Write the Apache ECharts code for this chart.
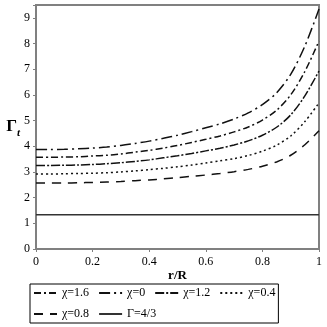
<!DOCTYPE html>
<html>
<head>
<meta charset="utf-8">
<script src="https://cdn.jsdelivr.net/npm/echarts@6/dist/echarts.min.js"></script>
<style>
html, body { margin: 0; padding: 0; background: #fff; }
#chart { width: 327px; height: 327px; }
</style>
</head>
<body>
<div id="chart"></div>
<script>
// r/R sample positions
const rValues = [0, 0.05, 0.1, 0.15, 0.2, 0.25, 0.3, 0.35, 0.4, 0.45, 0.5,
                 0.55, 0.6, 0.65, 0.7, 0.75, 0.8, 0.85, 0.9, 0.95, 1];

// values
const chi0  = [3.87, 3.87, 3.88, 3.90, 3.93, 3.97, 4.03, 4.11, 4.20, 4.31, 4.43,
               4.57, 4.72, 4.87, 5.06, 5.30, 5.62, 6.08, 6.80, 7.90, 9.34];
const chi16 = [3.57, 3.57, 3.58, 3.59, 3.62, 3.65, 3.70, 3.77, 3.84, 3.93, 4.03,
               4.15, 4.27, 4.40, 4.56, 4.75, 5.02, 5.40, 6.00, 6.91, 8.10];
const chi12 = [3.25, 3.25, 3.26, 3.27, 3.29, 3.32, 3.36, 3.41, 3.47, 3.55, 3.63,
               3.72, 3.82, 3.92, 4.05, 4.21, 4.43, 4.74, 5.22, 5.96, 6.93];
const chi04 = [2.92, 2.92, 2.93, 2.94, 2.95, 2.97, 3.00, 3.04, 3.09, 3.14, 3.20,
               3.27, 3.35, 3.43, 3.52, 3.64, 3.81, 4.04, 4.40, 4.96, 5.69];
const chi08 = [2.57, 2.57, 2.57, 2.58, 2.59, 2.61, 2.63, 2.66, 2.69, 2.73, 2.78,
               2.83, 2.88, 2.94, 3.01, 3.10, 3.22, 3.39, 3.65, 4.06, 4.60];
const gammaR = [0, 1];
const gamma43 = [1.333, 1.333];

const legendOrder = ['χ=1.6', 'χ=0', 'χ=1.2', 'χ=0.4', 'χ=0.8', 'Γ=4/3'];

function pairs(xs, ys) {
    return xs.map((x, i) => [x, ys[i]]);
}

function curve(name, xs, ys, dash, color) {
    return {
        name: name,
        type: 'line',
        data: pairs(xs, ys),
        smooth: 0.3,
        symbol: 'none',
        lineStyle: { color: color || '#111', width: 1.5, type: dash },
        itemStyle: { color: color || '#111' }
    };
}

const fontFamily = '"Liberation Serif", "DejaVu Serif", serif';

let myChart = echarts.init(document.getElementById('chart'));
let option = {
    animation: false,
    textStyle: { fontFamily: fontFamily, color: '#000' },
    grid: {
        left: 36, right: 8, top: 5, bottom: 78,
        show: true,
        borderColor: '#808080',
        borderWidth: 2
    },
    xAxis: {
        type: 'value',
        min: 0, max: 1, interval: 0.2,
        name: 'r/R',
        nameLocation: 'middle',
        nameGap: 20,
        nameMoveOverlap: false,
        nameTextStyle: { fontFamily: fontFamily, fontWeight: 'bold', fontSize: 13, color: '#000' },
        axisLine: { lineStyle: { color: '#808080', width: 2 } },
        axisTick: { show: true, length: 3, lineStyle: { color: '#808080' } },
        axisLabel: { fontFamily: fontFamily, fontSize: 12, color: '#000', margin: 7 },
        splitLine: { show: false }
    },
    yAxis: {
        type: 'value',
        min: 0, max: 9.5, interval: 1,
        name: '{g|Γ}{t|t}',
        nameLocation: 'middle',
        nameRotate: 0,
        nameGap: 16,
        nameMoveOverlap: false,
        nameTextStyle: {
            rich: {
                g: { fontFamily: fontFamily, fontWeight: 'bold', fontSize: 17, color: '#000' },
                t: { fontFamily: fontFamily, fontWeight: 'bold', fontStyle: 'italic', fontSize: 11, color: '#000', padding: [12, 0, 0, 0] }
            }
        },
        axisLine: { lineStyle: { color: '#808080', width: 2 } },
        axisTick: { show: true, length: 3, lineStyle: { color: '#808080' } },
        axisLabel: {
            fontFamily: fontFamily, fontSize: 12, color: '#000', margin: 6,
            formatter: function (v) { return Number.isInteger(v) ? String(v) : ''; }
        },
        splitLine: { show: false }
    },
    legend: {
        data: legendOrder,
        left: 30, top: 284,
        width: 262,
        orient: 'horizontal',
        padding: [3, 3, 3, 3],
        itemGap: 9,
        itemWidth: 23,
        itemHeight: 10,
        borderColor: '#000',
        borderWidth: 1,
        borderRadius: 0,
        itemStyle: { color: 'transparent', borderWidth: 0, opacity: 0 },
        textStyle: { fontFamily: fontFamily, fontSize: 12, color: '#000', width: 31 }
    },
    series: [
        curve('χ=0', rValues, chi0, [11, 4, 2, 4]),
        curve('χ=1.6', rValues, chi16, [7, 3, 2, 3]),
        curve('χ=1.2', rValues, chi12, [9, 2, 2, 2]),
        curve('χ=0.4', rValues, chi04, [2, 3]),
        curve('χ=0.8', rValues, chi08, [9, 7]),
        curve('Γ=4/3', gammaR, gamma43, 'solid', '#333')
    ]
};
myChart.setOption(option);
</script>
</body>
</html>
